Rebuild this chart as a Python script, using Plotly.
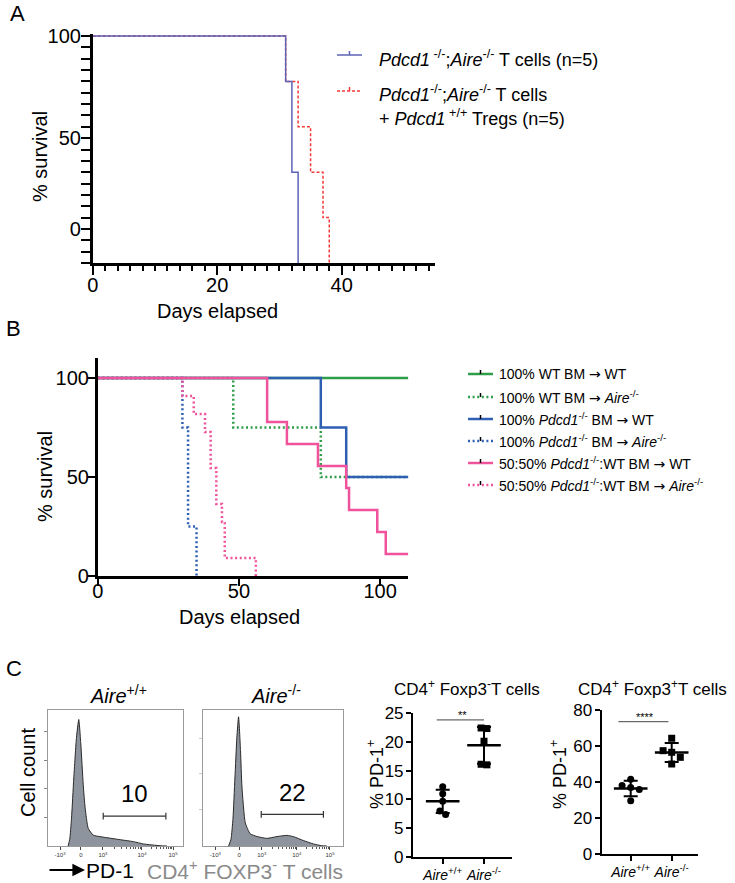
import numpy as np
import plotly.graph_objects as go

W, H = 735, 883
FONT = "Liberation Sans, Arial, Helvetica, sans-serif"

# ---------------- Panel A data (Kaplan-Meier) ----------------
a_ko_days = [0, 31, 32, 33]
a_ko_surv = [100, 80, 40, 0]
a_treg_days = [0, 31, 33, 35, 37, 38]
a_treg_surv = [100, 80, 60, 40, 20, 0]
a_ytick_vals = [100, 55, 15]
a_ytick_text = ["100", "50", "0"]
a_xtick_vals = [0, 20, 40]

# ---------------- Panel B data ----------------
b_wt_wt_days = [0, 110]
b_wt_wt_surv = [100, 100]
b_wt_aire_days = [0, 48, 79, 110]
b_wt_aire_surv = [100, 75, 50, 50]
b_pd_wt_days = [0, 79, 88, 110]
b_pd_wt_surv = [100, 75, 50, 50]
b_pd_aire_days = [0, 30, 32, 35]
b_pd_aire_surv = [100, 75, 25, 0]
b_mix_wt_days = [0, 60, 67, 78, 88, 89, 99, 102, 110]
b_mix_wt_surv = [100, 77.8, 66.7, 55.6, 44.4, 33.3, 22.2, 11.1, 11.1]
b_mix_aire_days = [0, 30, 34, 38, 40, 42, 44, 45, 56]
b_mix_aire_surv = [100, 90.9, 81.8, 72.7, 54.5, 36.4, 27.3, 9.1, 0]
ARW = "<span style='font-family:DejaVu Sans'>\u2192</span>"
b_labels = [
    "100% WT BM " + ARW + " WT",
    "100% WT BM " + ARW + " <i>Aire</i><sup>-/-</sup>",
    "100% <i>Pdcd1</i><sup>-/-</sup> BM " + ARW + " WT",
    "100% <i>Pdcd1</i><sup>-/-</sup> BM " + ARW + " <i>Aire</i><sup>-/-</sup>",
    "50:50% <i>Pdcd1</i><sup>-/-</sup>:WT BM " + ARW + " WT",
    "50:50% <i>Pdcd1</i><sup>-/-</sup>:WT BM " + ARW + " <i>Aire</i><sup>-/-</sup>",
]

# ---------------- Panel C histogram data (display-scale position, normalized count) ----------------
hist_wt_pos = [.149, .161, .174, .191, .211, .228, .243, .261, .275, .298, .335, .385, .509, .633, .707, .831, .881]
hist_wt_cnt = [0, .05, .20, .50, .80, .93, .75, .45, .28, .13, .08, .069, .05, .032, .015, .002, 0]
hist_ko_pos = [.183, .200, .214, .228, .242, .254, .268, .278, .302, .337, .385, .456, .527, .599, .646, .717, .789, .848, .884]
hist_ko_cnt = [0, .05, .20, .50, .80, .95, .70, .44, .17, .09, .07, .056, .069, .078, .069, .04, .015, .002, 0]
hist_tick_wt = [.089, .244, .407, .696, .926]
hist_tick_ko = [.088, .259, .420, .670, .907]
hist_tick_text = ["-10<sup>3</sup>", "0", "10<sup>3</sup>", "10<sup>4</sup>", "10<sup>5</sup>"]
gate_wt = [.409, .873]
gate_ko = [.416, .860]
pct_wt = 10
pct_ko = 22

# ---------------- Panel C dot plots ----------------
cats = ["<i>Aire</i><sup>+/+</sup>", "<i>Aire</i><sup>-/-</sup>"]
foxm_wt = [12.2, 11.0, 9.7, 8.0, 7.4]
foxm_ko = [22.4, 22.3, 20.1, 16.1, 16.0]
foxp_wt = [41.5, 38.0, 37.0, 35.9, 29.6]
foxp_ko = [64.3, 57.4, 56.5, 53.7, 50.0]

# ---------------- helpers ----------------
def px_x(p):
    return p / W

def px_y(p):
    return 1 - p / H

def lin_axis(p0, scale, lo, hi, vertical=False):
    """domain (paper) for an axis where value 0 sits at pixel p0 and scale px/unit"""
    if vertical:
        a, b = p0 - scale * hi, p0 - scale * lo
        return [px_y(b), px_y(a)]
    a, b = p0 + scale * lo, p0 + scale * hi
    return [px_x(a), px_x(b)]

def spread(vals, px_per_unit, thresh=6.0):
    vals = np.asarray(vals, float)
    order = list(np.argsort(-vals))
    offs = np.zeros(len(vals))
    clusters, cur = [], [order[0]]
    for a, b in zip(order[:-1], order[1:]):
        if (vals[a] - vals[b]) * px_per_unit < thresh:
            cur.append(b)
        else:
            clusters.append(cur)
            cur = [b]
    clusters.append(cur)
    for c in clusters:
        n = len(c)
        step = 0.07 * n
        for k, i in enumerate(c):
            offs[i] = (k - (n - 1) / 2) * step
    return offs

fig = go.Figure()
shapes, annos = [], []

def text(x, y, s, size, color="black", xanchor="center", angle=0, yanchor="middle"):
    annos.append(dict(x=px_x(x), y=px_y(y), xref="paper", yref="paper", text=s, showarrow=False,
                      xanchor=xanchor, yanchor=yanchor, textangle=angle,
                      font=dict(family=FONT, size=size, color=color)))

# ================= Panel A =================
A_BLUE, A_RED = "#5c62b5", "#f23a3a"
fig.add_trace(go.Scatter(x=a_treg_days, y=a_treg_surv, mode="lines", xaxis="x", yaxis="y",
                         line=dict(shape="hv", color=A_RED, width=1.5, dash="3px,2px"), showlegend=False))
fig.add_trace(go.Scatter(x=a_ko_days, y=a_ko_surv, mode="lines", xaxis="x", yaxis="y",
                         line=dict(shape="hv", color=A_BLUE, width=1.5), showlegend=False))

ax_common = dict(showgrid=False, zeroline=False, showline=True, linecolor="black", automargin=False,
                 tickcolor="black", tickfont=dict(family=FONT, size=20, color="black"))
A_Y0, A_SY = 263, 2.27
A_X0, A_SX = 92.7, 6.225
layout_axes = {}
layout_axes["xaxis"] = dict(ax_common, domain=lin_axis(A_X0, A_SX, 0, 55), range=[0, 55], anchor="y",
                            linewidth=2.5, ticks="outside", ticklen=9, tickwidth=2,
                            tickvals=a_xtick_vals, ticklabelstandoff=-7,
                            minor=dict(dtick=2, ticks="outside", ticklen=5, tickwidth=2, tickcolor="black"))
layout_axes["yaxis"] = dict(ax_common, domain=lin_axis(A_Y0, A_SY, 0, 101, True), range=[0, 101], anchor="x",
                            linewidth=2.5, ticks="outside", ticklen=9, tickwidth=2,
                            tickvals=a_ytick_vals, ticktext=a_ytick_text, ticklabelstandoff=-4,
                            minor=dict(tickvals=list(range(0, 101, 5)), ticks="outside", ticklen=9,
                                       tickwidth=2, tickcolor="black"))

text(17, 14, "A", 22)
text(40, 157, "% survival", 20, angle=-90)
text(217, 311, "Days elapsed", 20)
# legend A
for (y, col, dash) in [(55, A_BLUE, None), (91, A_RED, "3px,2px")]:
    shapes.append(dict(type="line", xref="paper", yref="paper", x0=px_x(337), x1=px_x(362), y0=px_y(y), y1=px_y(y),
                       line=dict(color=col, width=1.5, dash=dash)))
    shapes.append(dict(type="line", xref="paper", yref="paper", x0=px_x(349.5), x1=px_x(349.5), y0=px_y(y - 4), y1=px_y(y),
                       line=dict(color=col, width=1.5)))
text(377, 59, "<i>Pdcd1</i><sup> -/-</sup>;<i>Aire</i><sup>-/-</sup> T cells (n=5)", 18, xanchor="left")
text(377, 93, "<i>Pdcd1</i><sup>-/-</sup>;<i>Aire</i><sup>-/-</sup> T cells", 18, xanchor="left")
text(377, 118, "+ <i>Pdcd1</i><sup> +/+</sup> Tregs (n=5)", 18, xanchor="left")

# ================= Panel B =================
G, BL, PK = "#2e9e4a", "#2f5fb3", "#f0529c"
DOT = "2px,2.6px"
b_series = [
    (b_wt_wt_days, b_wt_wt_surv, G, None),
    (b_wt_aire_days, b_wt_aire_surv, G, DOT),
    (b_pd_wt_days, b_pd_wt_surv, BL, None),
    (b_pd_aire_days, b_pd_aire_surv, BL, DOT),
    (b_mix_aire_days, b_mix_aire_surv, PK, DOT),
    (b_mix_wt_days, b_mix_wt_surv, PK, None),
]
for d, s, c, ds in b_series:
    fig.add_trace(go.Scatter(x=d, y=s, mode="lines", xaxis="x2", yaxis="y2",
                             line=dict(shape="hv", color=c, width=2.5, dash=ds), showlegend=False))
B_Y0, B_SY = 576, 1.98
B_X0, B_SX = 97.7, 2.824
layout_axes["xaxis2"] = dict(ax_common, domain=lin_axis(B_X0, B_SX, 0, 110), range=[0, 110], anchor="y2",
                             linewidth=2.5, ticks="outside", ticklen=7, tickwidth=2,
                             tickvals=[0, 50, 100], ticklabelstandoff=-12)
layout_axes["yaxis2"] = dict(ax_common, domain=lin_axis(B_Y0, B_SY, 0, 110, True), range=[0, 110], anchor="x2",
                             linewidth=2.5, ticks="outside", ticklen=7, tickwidth=2,
                             tickvals=[0, 50, 100], ticklabelstandoff=-5)
text(13, 328, "B", 22)
text(45, 477, "% survival", 20, angle=-90)
text(240, 617, "Days elapsed", 20)
b_leg_y = [374, 397, 419, 441, 463, 485]
b_leg_style = [(G, None), (G, DOT), (BL, None), (BL, DOT), (PK, None), (PK, DOT)]
for y, (c, ds), lab in zip(b_leg_y, b_leg_style, b_labels):
    shapes.append(dict(type="line", xref="paper", yref="paper", x0=px_x(468), x1=px_x(493), y0=px_y(y), y1=px_y(y),
                       line=dict(color=c, width=2.5, dash=ds)))
    shapes.append(dict(type="line", xref="paper", yref="paper", x0=px_x(480.5), x1=px_x(480.5), y0=px_y(y - 4), y1=px_y(y),
                       line=dict(color="black", width=1.5)))
    text(497, y, lab, 14, xanchor="left")

# ================= Panel C histograms =================
FILL = "#8e949d"
hist_boxes = [("x3", "y3", 48, 183, hist_wt_pos, hist_wt_cnt, hist_tick_wt, gate_wt, pct_wt, 0.22, [.21, .42, .63, .84], "#888888"),
              ("x4", "y4", 203, 343, hist_ko_pos, hist_ko_cnt, hist_tick_ko, gate_ko, pct_ko, 0.233, [.27, .534, .79], "#cccccc")]
for xa, ya, x0, x1, pos, cnt, tks, gate, pct, gy, ytk, ytc in hist_boxes:
    fig.add_trace(go.Scatter(x=pos, y=cnt, mode="lines", xaxis=xa, yaxis=ya, fill="tozeroy", fillcolor=FILL,
                             line=dict(color="#2a2a2a", width=1, shape="spline", smoothing=0.5), showlegend=False))
    k = xa[1:]
    # minor log ticks between decades, derived from decade tick positions
    minors = []
    for i in (2, 3):
        for m in range(2, 10):
            minors.append(tks[i] + (tks[i + 1] - tks[i]) * np.log10(m))
    layout_axes["xaxis" + k] = dict(domain=[px_x(x0), px_x(x1)], range=[0, 1], anchor="y" + k, showgrid=False,
                                    zeroline=False, showline=True, mirror=True, linecolor="#9a9a9a", linewidth=1,
                                    ticks="outside", ticklen=3, tickwidth=1, tickcolor="#444", automargin=False,
                                    tickvals=tks, ticktext=hist_tick_text, ticklabelstandoff=0,
                                    tickfont=dict(family=FONT, size=6, color="#333"),
                                    minor=dict(tickvals=minors, ticks="outside", ticklen=2, tickwidth=0.8, tickcolor="#555"))
    layout_axes["yaxis" + k] = dict(domain=[px_y(846), px_y(710)], range=[0, 1], anchor="x" + k, showgrid=False,
                                    zeroline=False, showline=True, mirror=True, linecolor="#9a9a9a", linewidth=1,
                                    ticks="outside", ticklen=3, tickwidth=1, tickcolor=ytc, automargin=False,
                                    tickvals=ytk, showticklabels=False)
    # gate bar
    fig.add_trace(go.Scatter(x=gate, y=[gy, gy], mode="lines", xaxis=xa, yaxis=ya,
                             line=dict(color="#333", width=1.2), showlegend=False))
    for gx in gate:
        fig.add_trace(go.Scatter(x=[gx, gx], y=[gy - 0.025, gy + 0.025], mode="lines", xaxis=xa, yaxis=ya,
                                 line=dict(color="#333", width=1.2), showlegend=False))
    annos.append(dict(x=float(np.mean(gate)), y=gy + 0.05, xref=xa, yref=ya, text=str(pct), showarrow=False,
                      yanchor="bottom", font=dict(family=FONT, size=24, color="black")))

text(14, 668, "C", 22)
text(118, 694, "<i>Aire</i><sup>+/+</sup>", 20)
text(276, 694, "<i>Aire</i><sup>-/-</sup>", 20)
text(28, 773, "Cell count", 20, angle=-90)
annos.append(dict(x=px_x(85), y=px_y(870), xref="paper", yref="paper", ax=-37, ay=0,
                  axref="pixel", ayref="pixel", text="", showarrow=True, arrowhead=2, arrowsize=1.4,
                  arrowwidth=1.8, arrowcolor="black"))
text(110, 870, "PD-1", 21)
text(145, 870, "CD4<sup>+</sup> FOXP3<sup>-</sup> T cells", 21, color="#8a8a8a", xanchor="left")

# ================= Panel C dot plots =================
dot_specs = [
    ("5", foxm_wt, foxm_ko, 442.7, 41.3, -0.72, 1.68, 857, 5.76, 25, 5,
     "CD4<sup>+</sup> Foxp3<sup>-</sup>T cells", 467, 375, "**", [-0.145, 1.0], 23.8, 0.49),
    ("6", foxp_wt, foxp_ko, 630.7, 41.0, -0.71, 1.64, 854, 1.8, 80, 20,
     "CD4<sup>+</sup> Foxp3<sup>+</sup>T cells", 652, 558, "****", [-0.3, 0.92], 73.5, 0.35),
]
for k, wt, ko, cx0, csx, xlo, xhi, y0, sy, ymax, ystep, title, tx, ytx, stars, sig_x, sig_y, star_x in dot_specs:
    for ci, (vals, sym) in enumerate([(wt, "circle"), (ko, "square")]):
        offs = spread(vals, sy)
        fig.add_trace(go.Scatter(x=ci + offs, y=vals, mode="markers", xaxis="x" + k, yaxis="y" + k,
                                 marker=dict(symbol=sym, size=7, color="black"), showlegend=False, cliponaxis=False))
    means = [float(np.mean(wt)), float(np.mean(ko))]
    sds = [float(np.std(wt, ddof=1)), float(np.std(ko, ddof=1))]
    fig.add_trace(go.Scatter(x=[0, 1], y=means, mode="markers", xaxis="x" + k, yaxis="y" + k,
                             marker=dict(symbol="line-ew", size=24, line=dict(width=2.5, color="black")),
                             error_y=dict(type="data", array=sds, width=7, thickness=2, color="black"),
                             showlegend=False, cliponaxis=False))
    layout_axes["xaxis" + k] = dict(domain=lin_axis(cx0, csx, xlo, xhi), range=[xlo, xhi], anchor="y" + k,
                                    showgrid=False, zeroline=False, showline=True, linecolor="black", linewidth=2,
                                    ticks="outside", ticklen=5, tickwidth=2, tickcolor="black", automargin=False,
                                    tickvals=[0, 1], ticktext=cats, ticklabelstandoff=-1,
                                    tickfont=dict(family=FONT, size=14, color="black"))
    layout_axes["yaxis" + k] = dict(domain=lin_axis(y0, sy, 0, ymax, True), range=[0, ymax], anchor="x" + k,
                                    showgrid=False, zeroline=False, showline=True, linecolor="black", linewidth=2,
                                    ticks="outside", ticklen=5, tickwidth=2, tickcolor="black", automargin=False,
                                    tickvals=list(range(0, ymax + 1, ystep)), ticklabelstandoff=-1,
                                    tickfont=dict(family=FONT, size=17, color="black"))
    text(tx, 688, title, 17)
    text(ytx, 775, "% PD-1<sup>+</sup>", 18, angle=-90)
    shapes.append(dict(type="line", xref="x" + k, yref="y" + k, x0=sig_x[0], x1=sig_x[1], y0=sig_y, y1=sig_y,
                       line=dict(color="#444", width=1)))
    annos.append(dict(x=star_x, y=sig_y, xref="x" + k, yref="y" + k,
                      text=stars, showarrow=False, yanchor="bottom", yshift=-3,
                      font=dict(family=FONT, size=11, color="black")))

fig.update_layout(width=W, height=H, margin=dict(l=0, r=0, t=0, b=0, pad=0, autoexpand=False),
                  paper_bgcolor="white", plot_bgcolor="rgba(0,0,0,0)", showlegend=False,
                  shapes=shapes, annotations=annos, font=dict(family=FONT), **layout_axes)
fig.write_html("out.html", config={"displayModeBar": False},
               post_script="document.body.style.margin='0';document.body.style.overflow='hidden';")
